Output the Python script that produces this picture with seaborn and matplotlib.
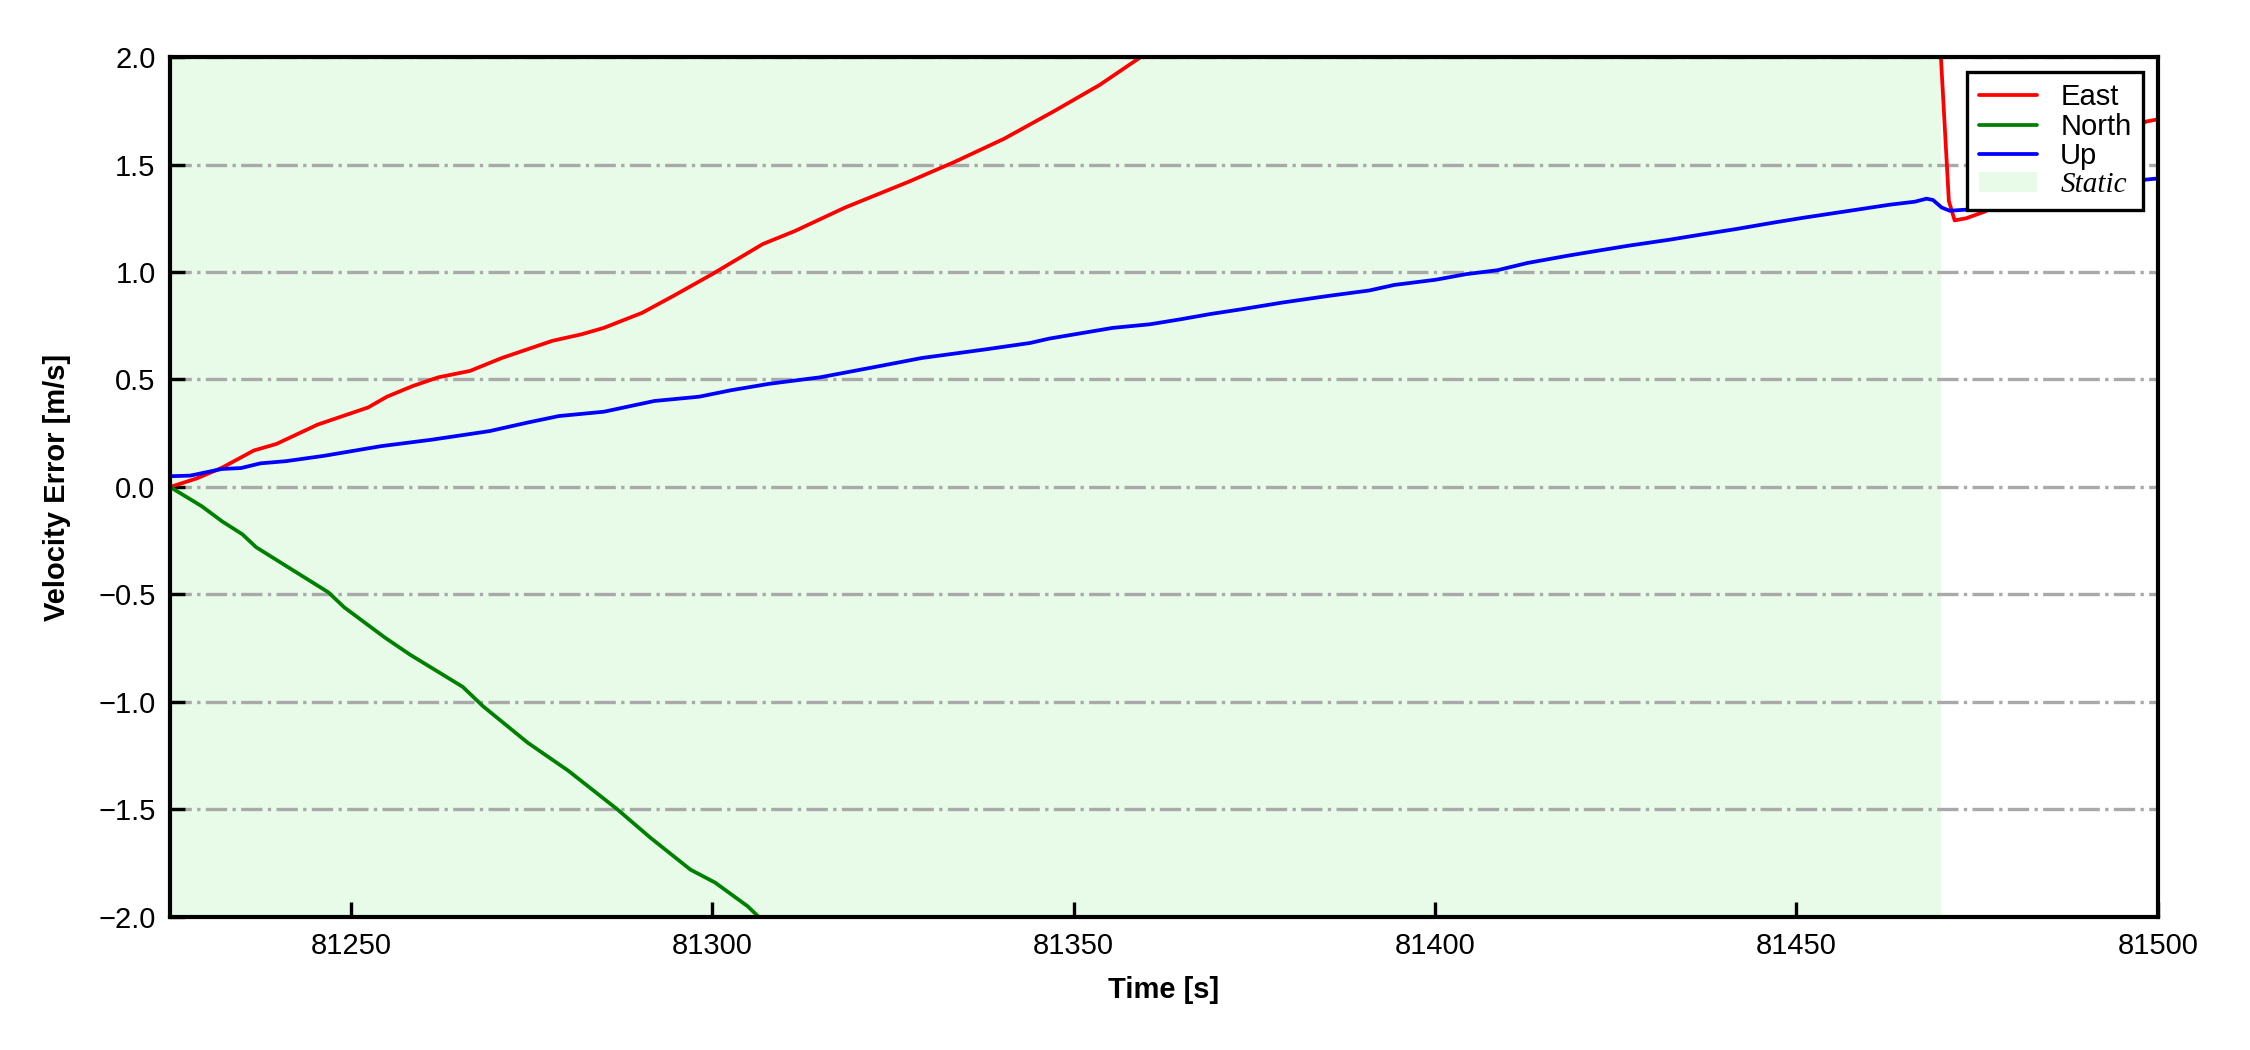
import matplotlib
matplotlib.use('Agg')
import matplotlib.pyplot as plt
import seaborn as sns
from matplotlib.patches import Patch

# ================ data ================
east_t = [81225, 81228.7, 81232.2, 81236.6, 81239.7, 81245.4, 81248.9, 81252.4, 81255, 81258.6,
          81262.1, 81266.5, 81270.9, 81277.9, 81281.9, 81285, 81290.3, 81294.7, 81300, 81307,
          81311.4, 81318.4, 81322.8, 81327.2, 81333.4, 81340.4, 81347.4, 81353.6, 81359.3, 81365,
          81400, 81440, 81465, 81469.9, 81471.1, 81471.9, 81473.5, 81476, 81480, 81485,
          81490, 81495, 81498.4, 81500]
east_v = [0, 0.04, 0.09, 0.17, 0.20, 0.29, 0.33, 0.37, 0.42, 0.47,
          0.51, 0.54, 0.60, 0.68, 0.71, 0.74, 0.81, 0.89, 0.99, 1.13,
          1.19, 1.30, 1.36, 1.42, 1.51, 1.62, 1.75, 1.87, 2.0, 2.12,
          2.9, 3.6, 3.0, 2.06, 1.33, 1.24, 1.25, 1.28, 1.35, 1.45,
          1.55, 1.63, 1.70, 1.71]

north_t = [81225, 81229.4, 81232.2, 81235, 81236.9, 81240.7, 81246.9, 81249.1, 81254.7, 81258.2,
           81262.1, 81265.5, 81268.3, 81274.5, 81280.1, 81286.9, 81291.4, 81297, 81300.4, 81304.9,
           81308]
north_v = [0, -0.09, -0.16, -0.22, -0.28, -0.36, -0.49, -0.56, -0.70, -0.78,
           -0.86, -0.93, -1.02, -1.19, -1.32, -1.50, -1.63, -1.78, -1.84, -1.95,
           -2.05]

up_t = [81225, 81227.8, 81232.2, 81234.8, 81237.5, 81241, 81246.3, 81254.2, 81261.2, 81269.2,
        81274.5, 81278.8, 81285, 81292, 81298.2, 81302.6, 81307.9, 81314.9, 81322.8, 81329,
        81333.4, 81337.8, 81344, 81346.6, 81355.4, 81360.6, 81364.8, 81369, 81373.3, 81378.9,
        81385.3, 81390.9, 81394.4, 81400.1, 81404.3, 81408.6, 81412.8, 81418.4, 81422.7, 81426.9,
        81432.6, 81436.8, 81441.7, 81446.7, 81450.9, 81458, 81462.9, 81466.4, 81468, 81468.9,
        81470.1, 81471.2, 81473.5, 81480, 81490, 81498.4, 81500]
up_v = [0.05, 0.053, 0.084, 0.088, 0.11, 0.12, 0.145, 0.19, 0.22, 0.26,
        0.30, 0.33, 0.35, 0.40, 0.42, 0.45, 0.48, 0.51, 0.56, 0.60,
        0.62, 0.64, 0.67, 0.69, 0.74, 0.757, 0.78, 0.805, 0.827, 0.858,
        0.889, 0.914, 0.94, 0.964, 0.99, 1.008, 1.042, 1.076, 1.10, 1.123,
        1.151, 1.174, 1.20, 1.229, 1.252, 1.288, 1.313, 1.327, 1.341, 1.335,
        1.30, 1.285, 1.29, 1.33, 1.38, 1.43, 1.435]

static_start = 81200
static_end = 81470

# ================ style ================
sns.set_style('ticks', {'xtick.direction': 'in', 'ytick.direction': 'in'})
plt.rcParams['font.family'] = ['Liberation Sans', 'DejaVu Sans']
plt.rcParams['font.size'] = 7
plt.rcParams['axes.linewidth'] = 1.0
plt.rcParams['axes.edgecolor'] = 'black'
plt.rcParams['text.color'] = 'black'
plt.rcParams['axes.labelcolor'] = 'black'
plt.rcParams['xtick.color'] = 'black'
plt.rcParams['ytick.color'] = 'black'

fig, ax = plt.subplots(figsize=(7.5, 3.5), dpi=300)
fig.subplots_adjust(left=0.0756, right=0.959, top=0.9457, bottom=0.1267)

ax.axvspan(static_start, static_end, color='lightgreen', alpha=0.2, lw=0, zorder=0)

sns.lineplot(x=east_t, y=east_v, color='red', lw=0.9, ax=ax, sort=False)
sns.lineplot(x=north_t, y=north_v, color='green', lw=0.9, ax=ax, sort=False)
sns.lineplot(x=up_t, y=up_v, color='blue', lw=0.9, ax=ax, sort=False)

ax.set_xlim(81225, 81500)
ax.set_ylim(-2.0, 2.0)
ax.set_yticks([-2.0, -1.5, -1.0, -0.5, 0.0, 0.5, 1.0, 1.5, 2.0])
ax.set_xticks([81250, 81300, 81350, 81400, 81450, 81500])
ax.tick_params(axis='both', direction='in', labelsize=7, length=3.5, width=0.8,
               color='black', labelcolor='black')
ax.set_axisbelow(True)
ax.yaxis.grid(True, linestyle='-.', color='darkgray', lw=0.8)

ax.set_xlabel('Time [s]', fontsize=7, fontweight='bold')
ax.set_ylabel('Velocity Error [m/s]', fontsize=7, fontweight='bold', labelpad=6.5)

handles = [
    plt.Line2D([], [], color='red', lw=0.9),
    plt.Line2D([], [], color='green', lw=0.9),
    plt.Line2D([], [], color='blue', lw=0.9),
    Patch(facecolor='lightgreen', alpha=0.2, edgecolor='none'),
]
leg = ax.legend(handles, ['East', 'North', 'Up', 'Static'], loc='upper right', fontsize=7,
                fancybox=False, framealpha=1, edgecolor='black', labelspacing=0.05)
leg.get_frame().set_linewidth(0.8)
leg.get_texts()[3].set_fontfamily(['Liberation Serif', 'DejaVu Serif'])
leg.get_texts()[3].set_fontstyle('italic')

fig.savefig('out.png', dpi=300)
